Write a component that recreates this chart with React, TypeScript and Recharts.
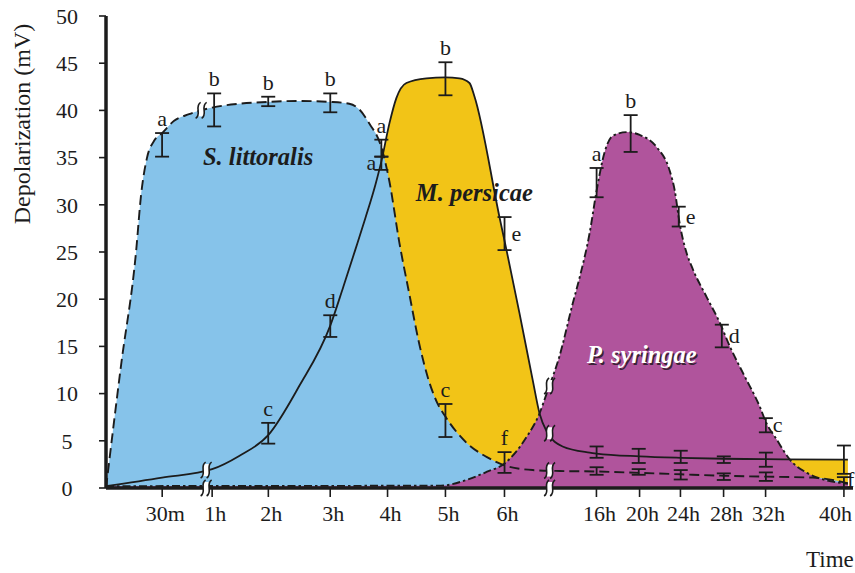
import React from 'react';
import { ComposedChart, Area, Line, Scatter, XAxis, YAxis, ErrorBar, Label } from 'recharts';

// ---------- data ----------
const tickLabels = ['30m', '1h', '2h', '3h', '4h', '5h', '6h', '16h', '20h', '24h', '28h', '32h', '40h'];
const tickSlots = [0.99, 1.87, 2.86, 3.95, 4.96, 5.98, 7.02, 8.64, 9.4, 10.12, 10.88, 11.62, 13.0];
const yTicks = [0, 5, 10, 15, 20, 25, 30, 35, 40, 45, 50];

// S. littoralis (dashed, blue)
const blueCurve = [
  [0, 0], [0.265, 13], [0.529, 25], [0.617, 31], [0.723, 35], [0.85, 36.8], [0.988, 37.6], [1.2, 38.9],
  [1.464, 39.6], [1.87, 40.3], [2.346, 40.7], [2.858, 40.9], [3.404, 41], [3.951, 40.9], [4.286, 40.7],
  [4.463, 40.1], [4.639, 38.6], [4.851, 36.1], [4.992, 32.5], [5.168, 26], [5.345, 20.5], [5.521, 15.2],
  [5.68, 11.5], [5.821, 9.2], [5.998, 7.4], [6.35, 4.8], [6.703, 3.3], [7.021, 2.4], [7.515, 1.9],
  [7.991, 1.8], [8.643, 1.75], [9.402, 1.6], [10.125, 1.45], [10.884, 1.3], [11.625, 1.2], [12.454, 1.1],
  [13.0, 0.6], [13.07, 0.5],
];
// M. persicae (solid, yellow)
const yellowCurve = [
  [0, 0.2], [0.988, 1.1], [1.87, 2.0], [2.346, 3.4], [2.858, 5.6], [3.404, 10.8], [3.951, 17.2],
  [4.18, 21.3], [4.39, 25.2], [4.57, 28.6], [4.745, 32.1], [4.851, 34.6], [4.992, 38.6], [5.115, 41.3],
  [5.292, 42.9], [5.645, 43.4], [5.98, 43.5], [6.227, 43.4], [6.403, 42.9], [6.49, 41.5], [6.932, 28.7],
  [7.056, 25.2], [7.285, 18.5], [7.515, 11.5], [7.638, 7.9], [7.762, 6.0], [8.044, 4.4], [8.52, 3.75],
  [8.643, 3.65], [9.402, 3.35], [10.125, 3.2], [10.884, 3.1], [11.625, 3.05], [13.0, 3.0], [13.07, 3.0],
];
// P. syringae (dash-dot, purple)
const purpleCurve = [
  [0, 0.2], [5.9, 0.25], [6.35, 0.85], [6.703, 1.7], [7.021, 2.6], [7.409, 5.4], [7.638, 7.9],
  [7.762, 10.0], [7.991, 14.0], [8.22, 19.5], [8.344, 22.3], [8.52, 27], [8.643, 31.5], [8.785, 35.6],
  [8.926, 37.3], [9.173, 37.7], [9.402, 37.4], [9.702, 36.1], [9.931, 33.6], [10.02, 31.5], [10.107, 28.0],
  [10.213, 25.2], [10.337, 23.2], [10.584, 20.2], [10.814, 17.5], [10.99, 15.0], [11.254, 11.8],
  [11.519, 8.6], [11.625, 7.0], [11.819, 5.1], [12.048, 3.0], [12.348, 1.6], [12.701, 0.8], [13.0, 0.5],
  [13.07, 0.45],
];

// measured means with error (half-range) and significance letters
const blueErr = [
  { x: 0.988, y: 36.35, e: 1.25, l: 'a', s: 'top' },
  { x: 1.905, y: 40.05, e: 1.75, l: 'b', s: 'top' },
  { x: 2.858, y: 40.95, e: 0.5, l: 'b', s: 'top' },
  { x: 3.951, y: 40.8, e: 1.0, l: 'b', s: 'top' },
  { x: 4.851, y: 36.0, e: 0.9, l: 'a', s: 'top' },
  { x: 5.98, y: 7.15, e: 1.75, l: 'c', s: 'top' },
  { x: 7.021, y: 2.7, e: 1.1, l: 'f', s: 'top' },
  { x: 8.643, y: 1.8, e: 0.4 },
  { x: 9.385, y: 1.7, e: 0.3 },
  { x: 10.125, y: 1.4, e: 0.5 },
  { x: 10.884, y: 1.2, e: 0.35 },
  { x: 11.625, y: 1.2, e: 0.45 },
  { x: 13.0, y: 0.6, e: 0.55, l: 'f', s: 'edge' },
];
const yellowErr = [
  { x: 2.858, y: 5.8, e: 1.1, l: 'c', s: 'top' },
  { x: 3.951, y: 17.15, e: 1.15, l: 'd', s: 'top' },
  { x: 4.851, y: 34.4, e: 0.7, l: 'a', s: 'left' },
  { x: 5.98, y: 43.35, e: 1.75, l: 'b', s: 'top' },
  { x: 7.021, y: 26.95, e: 1.75, l: 'e', s: 'right' },
  { x: 8.643, y: 3.8, e: 0.6 },
  { x: 9.385, y: 3.4, e: 0.75 },
  { x: 10.125, y: 3.3, e: 0.65 },
  { x: 10.884, y: 3.0, e: 0.35 },
  { x: 11.625, y: 3.0, e: 0.75 },
  { x: 13.0, y: 3.0, e: 1.5 },
];
const purpleErr = [
  { x: 8.643, y: 32.35, e: 1.55, l: 'a', s: 'top' },
  { x: 9.243, y: 37.55, e: 1.95, l: 'b', s: 'top' },
  { x: 10.09, y: 28.75, e: 1.05, l: 'e', s: 'right' },
  { x: 10.849, y: 16.1, e: 1.2, l: 'd', s: 'right' },
  { x: 11.625, y: 6.65, e: 0.75, l: 'c', s: 'right' },
];
// axis-break marks on the lines and on the x axis
const breakMarks = [
  { x: 1.676, y: 40.0 }, { x: 1.764, y: 1.9 }, { x: 1.764, y: 0 },
  { x: 7.815, y: 10.8 }, { x: 7.815, y: 5.8 }, { x: 7.815, y: 1.85 }, { x: 7.815, y: 0 },
];
const speciesLabels = [
  { x: 2.68, y: 34.2, t: 'S. littoralis' },
  { x: 6.49, y: 30.4, t: 'M. persicae' },
  { x: 9.44, y: 13.2, t: 'P. syringae' },
];

// ---------- layout / style ----------
const W = 855;
const H = 573;
const MARGIN = { top: 16, right: 2, bottom: 45, left: 0 };
const XAXIS_H = 40;
const YAXIS_W = 106;
const PLOT_H = H - MARGIN.top - MARGIN.bottom - XAXIS_H;
const PX_PER_UNIT = PLOT_H / 50;
const FONT = '"Liberation Serif", "Times New Roman", serif';
const INK = '#1c1c1c';
const BLUE = '#86C3EA';
const YELLOW = '#F2C417';
const PURPLE = '#B0549C';
const WHITE_LABELS: Record<string, boolean> = { 'P. syringae': true };

const pts = (arr: number[][]) => arr.map(([x, y]) => ({ x, y }));
const blueData = pts(blueCurve);
const yellowData = pts(yellowCurve);
const purpleData = pts(purpleCurve);

const XTick = (props: any) => {
  const { x, y, payload } = props;
  const i = tickSlots.indexOf(payload.value);
  const label = i >= 0 ? tickLabels[i] : '';
  let tx = x + 3;
  const halfW = label.length * 6.2;
  if (tx + halfW > W - 1) tx = W - 1 - halfW;
  return (
    <text x={tx} y={y + 22} textAnchor="middle" fontSize={22} fontFamily={FONT} fill={INK}>
      {label}
    </text>
  );
};

const YTick = (props: any) => {
  const { y, payload } = props;
  return (
    <text x={67} y={y} dy="0.35em" textAnchor="middle" fontSize={22} fontFamily={FONT} fill={INK}>
      {payload.value}
    </text>
  );
};

const LetterShape = (props: any) => {
  const { cx, cy, payload } = props;
  if (!payload || !payload.l) return <g />;
  const half = payload.e * PX_PER_UNIT;
  let x = cx;
  let y = cy - half - 7;
  let anchor = 'middle';
  if (payload.s === 'right') { x = cx + 7; y = cy + 7; anchor = 'start'; }
  if (payload.s === 'edge') { x = cx + 3; y = cy + 5; anchor = 'start'; }
  if (payload.s === 'left') { x = cx - 5; y = cy + 7; anchor = 'end'; }
  return (
    <text x={x} y={y} textAnchor={anchor} fontSize={22} fontFamily={FONT} fill={INK}>
      {payload.l}
    </text>
  );
};

const BreakShape = (props: any) => {
  const { cx, cy } = props;
  const s = (dx: number) =>
    `M${cx + dx + 2.5},${cy - 8} C${cx + dx - 4},${cy - 4} ${cx + dx + 4},${cy + 4} ${cx + dx - 2.5},${cy + 8}`;
  return (
    <g>
      <rect x={cx - 3} y={cy - 6} width={6} height={12} fill="#ffffff" />
      <path d={s(-3)} fill="none" stroke={INK} strokeWidth={1.6} />
      <path d={s(3)} fill="none" stroke={INK} strokeWidth={1.6} />
    </g>
  );
};

const SpeciesShape = (props: any) => {
  const { cx, cy, payload } = props;
  const white = WHITE_LABELS[payload.t];
  return (
    <g>
      {white && (
        <text x={cx + 1.5} y={cy + 1.5} textAnchor="middle" fontSize={24.5} fontWeight="bold" fontStyle="italic"
          fontFamily={FONT} fill="#3a2235">{payload.t}</text>
      )}
      <text x={cx} y={cy} textAnchor="middle" fontSize={24.5} fontWeight="bold" fontStyle="italic"
        fontFamily={FONT} fill={white ? '#ffffff' : INK}>{payload.t}</text>
    </g>
  );
};

const YLabel = () => (
  <text x={22} y={124} transform="rotate(-90 22 124)" textAnchor="middle" dominantBaseline="central"
    fontSize={24} fontFamily={FONT} fill={INK}>Depolarization (mV)</text>
);
const XLabel = () => (
  <text x={806} y={567} textAnchor="start" fontSize={23} fontFamily={FONT} fill={INK}>Time</text>
);

export default function App() {
  return (
    <div style={{ position: 'absolute', left: 0, top: 0, width: W, height: H, background: '#fff' }}>
      <ComposedChart width={W} height={H} margin={MARGIN}>
        <XAxis type="number" dataKey="x" domain={[0, 13.16]} ticks={tickSlots} interval={0}
          height={XAXIS_H} tick={<XTick />} tickSize={9}
          tickLine={{ stroke: INK, strokeWidth: 1.6 }} axisLine={{ stroke: INK, strokeWidth: 3.5 }}>
          <Label content={<XLabel />} />
        </XAxis>
        <YAxis type="number" domain={[0, 50]} ticks={yTicks} width={YAXIS_W} tick={<YTick />} tickSize={7}
          tickLine={{ stroke: INK, strokeWidth: 1.6 }} axisLine={{ stroke: INK, strokeWidth: 3.5 }}>
          <Label content={<YLabel />} />
        </YAxis>

        <Area data={yellowData} dataKey="y" type="monotone" stroke="none" fill={YELLOW} fillOpacity={1}
          isAnimationActive={false} dot={false} activeDot={false} />
        <Area data={blueData} dataKey="y" type="monotone" stroke="none" fill={BLUE} fillOpacity={1}
          isAnimationActive={false} dot={false} activeDot={false} />
        <Area data={purpleData} dataKey="y" type="monotone" stroke="none" fill={PURPLE} fillOpacity={1}
          isAnimationActive={false} dot={false} activeDot={false} />

        <Line data={blueData} dataKey="y" type="monotone" stroke={INK} strokeWidth={1.9}
          strokeDasharray="10 5" dot={false} activeDot={false} isAnimationActive={false} />
        <Line data={yellowData} dataKey="y" type="monotone" stroke={INK} strokeWidth={1.8}
          dot={false} activeDot={false} isAnimationActive={false} />
        <Line data={purpleData} dataKey="y" type="monotone" stroke={INK} strokeWidth={1.9}
          strokeDasharray="8 3 2.5 3" dot={false} activeDot={false} isAnimationActive={false} />

        <Scatter data={breakMarks} dataKey="y" shape={<BreakShape />} isAnimationActive={false} />

        <Scatter data={blueErr} dataKey="y" shape={<LetterShape />} isAnimationActive={false}>
          <ErrorBar dataKey="e" direction="y" width={7} stroke={INK} strokeWidth={1.8} />
        </Scatter>
        <Scatter data={yellowErr} dataKey="y" shape={<LetterShape />} isAnimationActive={false}>
          <ErrorBar dataKey="e" direction="y" width={7} stroke={INK} strokeWidth={1.8} />
        </Scatter>
        <Scatter data={purpleErr} dataKey="y" shape={<LetterShape />} isAnimationActive={false}>
          <ErrorBar dataKey="e" direction="y" width={7} stroke={INK} strokeWidth={1.8} />
        </Scatter>

        <Scatter data={speciesLabels} dataKey="y" shape={<SpeciesShape />} isAnimationActive={false} />
      </ComposedChart>
    </div>
  );
}
